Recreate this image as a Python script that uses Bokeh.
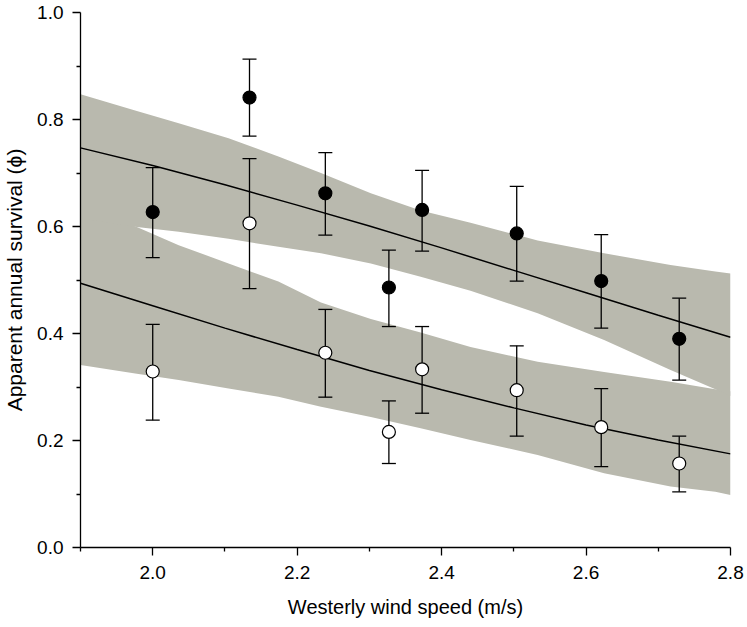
from bokeh.plotting import figure
from bokeh.models import Range1d, FixedTicker, ColumnDataSource, CustomJSTickFormatter
from bokeh.embed import file_html
from bokeh.resources import INLINE

# ---- data ----
wind = [2.000, 2.134, 2.239, 2.327, 2.373, 2.504, 2.621, 2.729]
black_phi = [0.627, 0.841, 0.662, 0.486, 0.631, 0.587, 0.498, 0.390]
black_lo = [0.542, 0.769, 0.584, 0.413, 0.554, 0.498, 0.410, 0.313]
black_hi = [0.710, 0.913, 0.738, 0.556, 0.705, 0.675, 0.585, 0.466]
white_phi = [0.329, 0.606, 0.364, 0.216, 0.333, 0.294, 0.225, 0.157]
white_lo = [0.238, 0.484, 0.281, 0.157, 0.251, 0.208, 0.151, 0.104]
white_hi = [0.417, 0.727, 0.445, 0.274, 0.413, 0.377, 0.297, 0.208]

fit_x = [1.9, 2.0, 2.1, 2.2, 2.3, 2.4, 2.5, 2.6, 2.7, 2.8]
fit_black = [0.747, 0.714, 0.678, 0.640, 0.601, 0.560, 0.518, 0.476, 0.434, 0.393]
fit_white = [0.494, 0.452, 0.410, 0.370, 0.331, 0.295, 0.261, 0.229, 0.201, 0.175]

band_x = [1.9, 1.978, 2.036, 2.105, 2.174, 2.233, 2.302, 2.371, 2.440, 2.533, 2.625, 2.717, 2.779, 2.8]
band_black_hi = [0.847, 0.816, 0.793, 0.765, 0.731, 0.700, 0.662, 0.630, 0.607, 0.574, 0.550, 0.528, 0.516, 0.512]
band_black_lo = [0.615, 0.599, 0.590, 0.577, 0.562, 0.550, 0.531, 0.506, 0.480, 0.438, 0.388, 0.332, 0.296, 0.283]
band_white_hi = [0.640, 0.599, 0.565, 0.531, 0.497, 0.458, 0.427, 0.402, 0.375, 0.347, 0.328, 0.310, 0.296, 0.292]
band_white_lo = [0.341, 0.325, 0.313, 0.297, 0.282, 0.263, 0.244, 0.223, 0.201, 0.173, 0.139, 0.114, 0.104, 0.098]

x_major = [2.0, 2.2, 2.4, 2.6, 2.8]
x_minor = [1.9, 2.1, 2.3, 2.5, 2.7]
y_major = [0.0, 0.2, 0.4, 0.6, 0.8, 1.0]
y_minor = [0.1, 0.3, 0.5, 0.7, 0.9]

FONT = "Liberation Sans"
BAND = "#B9B9AE"

p = figure(width=747, height=627, output_backend="svg", toolbar_location=None,
           x_range=Range1d(1.9, 2.8), y_range=Range1d(0.0, 1.0),
           min_border_left=80, min_border_right=17, min_border_top=12, min_border_bottom=80)
p.outline_line_color = None
p.xgrid.visible = False
p.ygrid.visible = False
p.background_fill_color = "white"
p.border_fill_color = "white"

bands = ColumnDataSource(dict(x=band_x, bh=band_black_hi, bl=band_black_lo,
                              wh=band_white_hi, wl=band_white_lo))
p.varea(x="x", y1="wl", y2="wh", source=bands, fill_color=BAND, fill_alpha=1.0)
p.varea(x="x", y1="bl", y2="bh", source=bands, fill_color=BAND, fill_alpha=1.0)

p.line(fit_x, fit_black, line_color="black", line_width=1.5)
p.line(fit_x, fit_white, line_color="black", line_width=1.5)

pts = ColumnDataSource(dict(x=wind, bp=black_phi, bl=black_lo, bh=black_hi,
                            wp=white_phi, wl=white_lo, wh=white_hi))
for lo, hi in (("bl", "bh"), ("wl", "wh")):
    p.segment(x0="x", y0=lo, x1="x", y1=hi, source=pts, line_color="black", line_width=1.3)
    p.scatter(x="x", y=lo, source=pts, marker="dash", size=14, line_color="black", line_width=1.3)
    p.scatter(x="x", y=hi, source=pts, marker="dash", size=14, line_color="black", line_width=1.3)

p.scatter(x="x", y="bp", source=pts, marker="circle", size=13,
          fill_color="black", line_color="black", line_width=1.2)
p.scatter(x="x", y="wp", source=pts, marker="circle", size=13,
          fill_color="white", line_color="black", line_width=1.2)

p.xaxis.ticker = FixedTicker(ticks=x_major, minor_ticks=x_minor)
p.yaxis.ticker = FixedTicker(ticks=y_major, minor_ticks=y_minor)
for ax in (p.xaxis[0], p.yaxis[0]):
    ax.axis_line_color = "black"
    ax.axis_line_width = 1.3
    ax.major_tick_line_color = "black"
    ax.major_tick_line_width = 1.3
    ax.minor_tick_line_color = "black"
    ax.minor_tick_line_width = 1.3
    ax.major_tick_out = 8
    ax.major_tick_in = 0
    ax.minor_tick_out = 4
    ax.minor_tick_in = 0
    ax.major_label_text_font = FONT
    ax.major_label_text_font_size = "19px"
    ax.major_label_text_color = "black"
    ax.axis_label_text_font = FONT
    ax.axis_label_text_font_style = "normal"
    ax.axis_label_text_color = "black"
p.xaxis.axis_label_text_font_size = "20px"
p.yaxis.axis_label_text_font_size = "21px"

p.xaxis.formatter = CustomJSTickFormatter(code="return tick.toFixed(1);")
p.yaxis.formatter = CustomJSTickFormatter(code="return tick.toFixed(1);")

p.xaxis.axis_label = "Westerly wind speed (m/s)"
p.yaxis.axis_label = "Apparent annual survival (ϕ)"
p.xaxis.major_label_standoff = 10
p.yaxis.major_label_standoff = 9
p.xaxis.axis_label_standoff = 14
p.yaxis.axis_label_standoff = 8

open("out.html", "w").write(file_html(p, INLINE))
